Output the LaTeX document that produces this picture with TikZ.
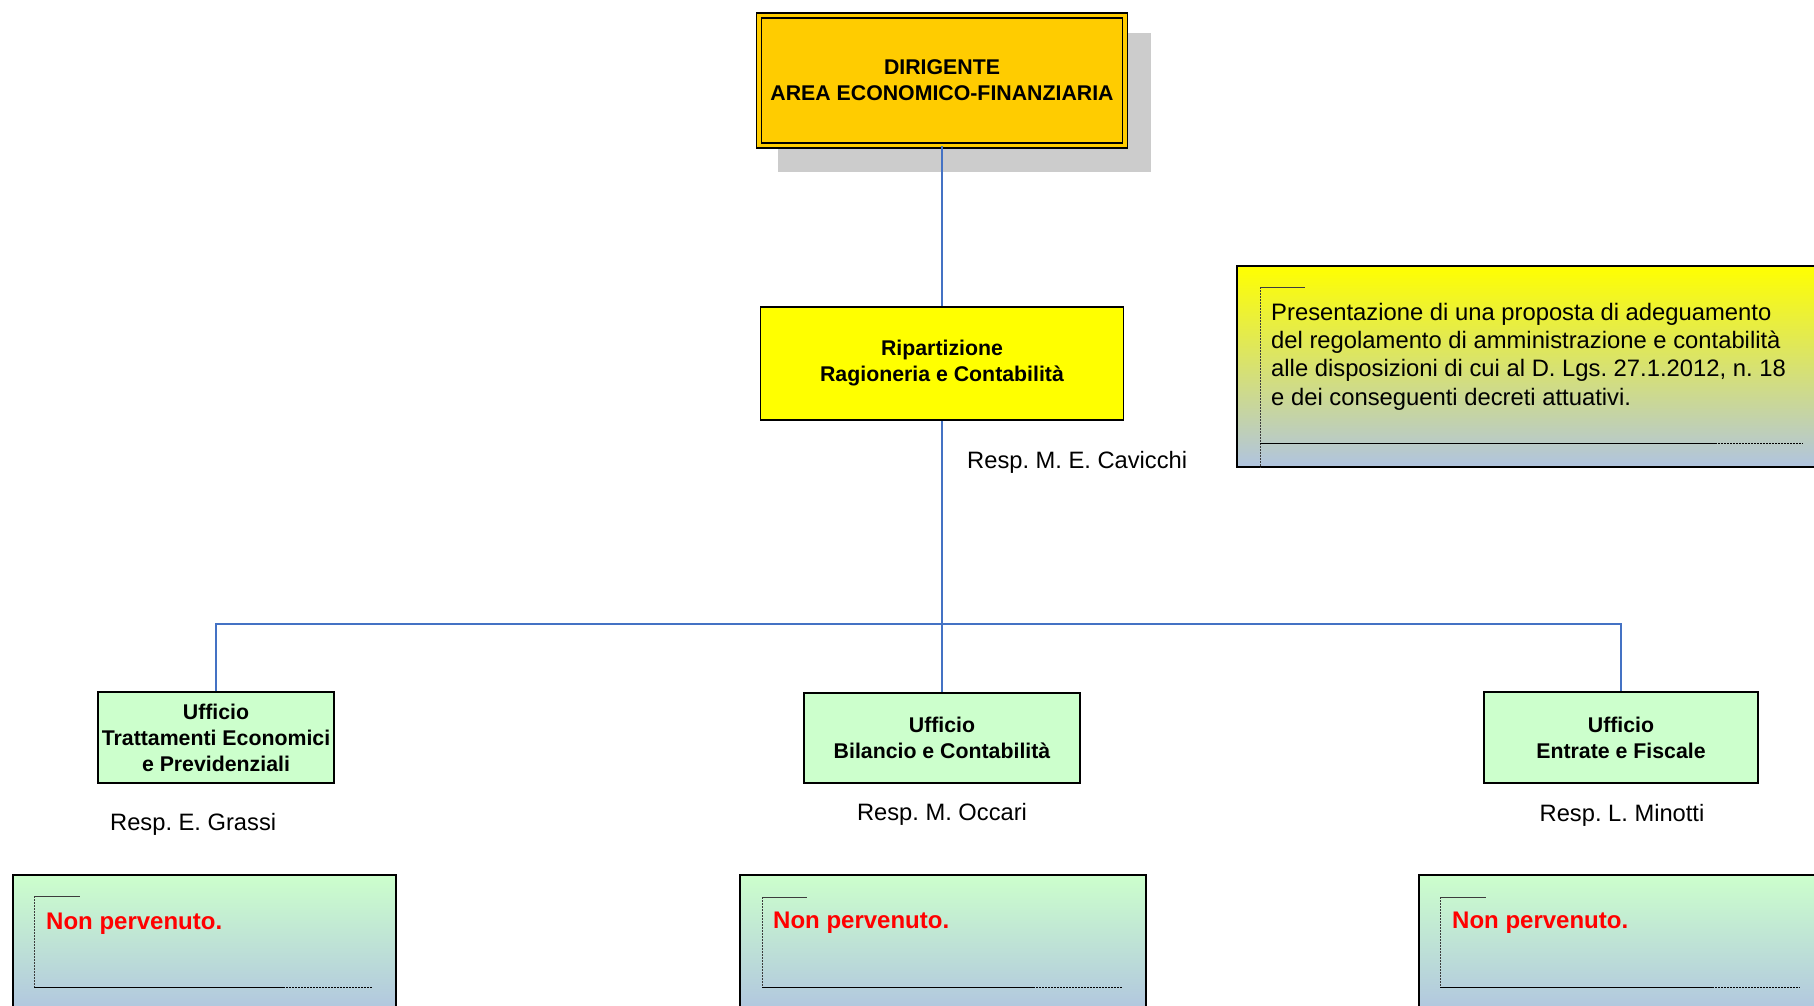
\documentclass[tikz,border=0pt]{standalone}
\usepackage{fontspec}
\setmainfont{Liberation Sans}
\definecolor{gold}{RGB}{255,204,0}
\definecolor{yel}{RGB}{255,255,0}
\definecolor{lgreen}{RGB}{204,255,204}
\definecolor{lsteel}{RGB}{176,196,224}
\definecolor{conn}{RGB}{68,114,196}
\definecolor{shadowgray}{RGB}{204,204,204}
\definecolor{framegray}{RGB}{60,60,60}
\begin{document}
\frenchspacing
\begin{tikzpicture}[x=1pt,y=-1pt,
  boxtext/.style={font=\bfseries\fontsize{21.3}{26}\selectfont, align=center, inner sep=0pt},
  unitbox/.style={boxtext, draw=black, line width=1.5pt, fill=lgreen},
  resp/.style={font=\fontsize{23.7}{28}\selectfont, inner sep=0pt, anchor=base},
  notetext/.style={font=\fontsize{23.8}{28}\selectfont, inner sep=0pt, anchor=base west},
  redtext/.style={font=\bfseries\fontsize{24}{28}\selectfont, text=red, inner sep=0pt, anchor=base west},
  connector/.style={draw=conn, line width=1.6pt},
  panel/.style={draw=black, line width=1.6pt, shading=axis, shading angle=0},
  frameside/.style={draw=framegray, line width=0.9pt, dash pattern=on 2pt off 1pt},
  frametop/.style={draw=framegray, line width=0.9pt},
  framebase/.style={draw=black, line width=1pt},
  framedots/.style={draw=black, line width=0.8pt, dash pattern=on 2pt off 1pt}
]
\useasboundingbox (0,0) rectangle (1814,1005);
\begin{scope}
\clip (0,0) rectangle (1814,1005);

% shadow of the top box
\fill[shadowgray] (778,33) rectangle (1151,172);

% top box
\node[boxtext, draw=black, fill=gold, line width=1.5pt, double=gold, double distance=3.5pt,
      minimum width=366pt, minimum height=130pt] (dir) at (942,80.5)
      {DIRIGENTE\\AREA ECONOMICO-FINANZIARIA};

% Ripartizione
\node[boxtext, draw=black, fill=yel, line width=1.5pt,
      minimum width=363pt, minimum height=113pt] (rip) at (942,363.5)
      {Ripartizione\\Ragioneria e Contabilità};
\node[resp, anchor=base west] (rcav) at (967,468) {Resp. M. E. Cavicchi};

% offices
\node[unitbox, minimum width=236pt, minimum height=91pt] (uleft) at (216,737.5)
      {Ufficio\\Trattamenti Economici\\e Previdenziali};
\node[unitbox, minimum width=276pt, minimum height=90pt] (umid) at (942,738)
      {Ufficio\\Bilancio e Contabilità};
\node[unitbox, minimum width=274pt, minimum height=91pt] (uright) at (1621,737.5)
      {Ufficio\\Entrate e Fiscale};

\node[resp, anchor=base west] (rgra) at (110,830) {Resp. E. Grassi};
\node[resp] (rocc) at (942,820) {Resp. M. Occari};
\node[resp] (rmin) at (1622,821) {Resp. L. Minotti};

% connectors
\coordinate (bus) at (942,624);
\draw[connector] (dir.south) -- (rip.north);
\draw[connector] (rip.south) -- (umid.north);
\draw[connector] (uleft.north) -- (uleft.north |- bus) -- (uright.north |- bus) -- (uright.north);

% note panel
\node[panel, top color=yel, bottom color=lsteel, minimum width=596pt, minimum height=201pt,
      inner sep=0pt, anchor=north west] (note) at (1236,265) {};
\draw[frameside] (1260,287) -- (1260,468);
\draw[frametop] (1260,287) -- (1305,287);
\draw[framebase] (1260,443) -- (1715,443);
\draw[framedots] (1715,443) -- (1803,443);
\node[notetext] (n1) at (1271,320) {Presentazione di una proposta di adeguamento};
\node[notetext] (n2) at (1271,348.3) {del regolamento di amministrazione e contabilità};
\node[notetext] (n3) at (1271,376.6) {alle disposizioni di cui al D. Lgs. 27.1.2012, n. 18};
\node[notetext] (n4) at (1271,405) {e dei conseguenti decreti attuativi.};

% bottom panels
\node[panel, top color=lgreen, bottom color=lsteel, minimum width=383pt, minimum height=141pt,
      inner sep=0pt, anchor=north west] (pleft) at (12,874) {};
\draw[frameside] (34,896) -- (34,987);
\draw[frametop] (34,896) -- (80,896);
\draw[framebase] (34,987) -- (283,987);
\draw[framedots] (283,987) -- (372,987);
\node[redtext] (tleft) at (46,929) {Non pervenuto.};

\node[panel, top color=lgreen, bottom color=lsteel, minimum width=406pt, minimum height=141pt,
      inner sep=0pt, anchor=north west] (pmid) at (739,874) {};
\draw[frameside] (762,897) -- (762,987);
\draw[frametop] (762,897) -- (807,897);
\draw[framebase] (762,987) -- (1033,987);
\draw[framedots] (1033,987) -- (1122,987);
\node[redtext] (tmid) at (773,928) {Non pervenuto.};

\node[panel, top color=lgreen, bottom color=lsteel, minimum width=412pt, minimum height=141pt,
      inner sep=0pt, anchor=north west] (pright) at (1418,874) {};
\draw[frameside] (1440,897) -- (1440,987);
\draw[frametop] (1440,897) -- (1486,897);
\draw[framebase] (1440,987) -- (1712,987);
\draw[framedots] (1712,987) -- (1800,987);
\node[redtext] (tright) at (1452,928) {Non pervenuto.};
\end{scope}
\end{tikzpicture}
\end{document}
